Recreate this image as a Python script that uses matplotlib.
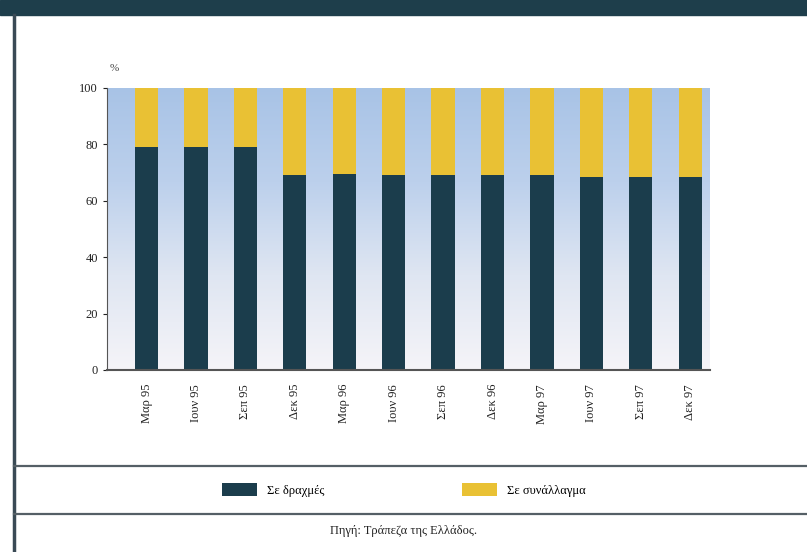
import numpy as np
import matplotlib.pyplot as plt
from matplotlib.colors import LinearSegmentedColormap
from matplotlib.lines import Line2D
from matplotlib.patches import Rectangle

# Quarterly shares (%) of deposits by currency
quarters = ['Μαρ 95', 'Ιουν 95', 'Σεπ 95', 'Δεκ 95', 'Μαρ 96', 'Ιουν 96',
            'Σεπ 96', 'Δεκ 96', 'Μαρ 97', 'Ιουν 97', 'Σεπ 97', 'Δεκ 97']
drachma = [79, 79, 79, 69, 69.5, 69, 69, 69, 69, 68.5, 68.5, 68.5]
foreign = [100 - v for v in drachma]

dark = '#1b3d4c'
gold = '#e9c134'

plt.rcParams['font.family'] = ['Liberation Serif', 'DejaVu Serif']

fig = plt.figure(figsize=(8.07, 5.52), dpi=100)
W, H = 807, 552

# frame: dark header band, left border and the separators of the lower panel
fig.patches.append(Rectangle((0, 1 - 15 / H), 1, 15 / H, transform=fig.transFigure,
                             color='#1e3e4b', zorder=0))
fig.lines.append(Line2D([14 / W, 14 / W], [0, 1 - 15 / H], transform=fig.transFigure,
                        color='#3a4a55', lw=2.5))
for yy in (466, 514):
    fig.lines.append(Line2D([14 / W, 1], [1 - yy / H, 1 - yy / H], transform=fig.transFigure,
                            color='#555f66', lw=1.6))

ax = fig.add_axes([107 / W, 1 - 370 / H, 603 / W, 282 / H])
x = np.arange(len(quarters))

# light blue background fading out towards the axis
cmap = LinearSegmentedColormap.from_list('bg', ['#a8c3e6', '#bcd0ec', '#dfe6f2', '#f5f4f8'])
grad = np.linspace(0, 1, 256).reshape(-1, 1)
ax.imshow(grad, aspect='auto', cmap=cmap, origin='upper',
          extent=(-0.8, 11.4, 0, 100), zorder=0)

ax.bar(x, drachma, width=0.47, color=dark, zorder=2, label='Σε δραχμές')
ax.bar(x, foreign, width=0.47, bottom=drachma, color=gold, zorder=2,
       label='Σε συνάλλαγμα')

ax.set_xlim(-0.8, 11.4)
ax.set_ylim(0, 100)
ax.set_yticks([0, 20, 40, 60, 80, 100])
ax.set_xticks(x)
ax.set_xticklabels(quarters, rotation=90, fontsize=9, color='#222222')
ax.tick_params(axis='y', labelsize=9, colors='#222222', length=3)
ax.tick_params(axis='x', length=0, pad=10)
for s in ('top', 'right'):
    ax.spines[s].set_visible(False)
ax.spines['left'].set_color('#555555')
ax.spines['bottom'].set_color('#555555')
ax.spines['bottom'].set_linewidth(1.5)
ax.text(-0.75, 106, '%', fontsize=8, color='#444444')

fig.legend(loc='center', bbox_to_anchor=(0.5, 1 - 490 / H), ncol=2, frameon=False,
           fontsize=9, handlelength=2.8, handleheight=1.2, columnspacing=11)
fig.text(0.5, 1 - 531 / H, 'Πηγή: Τράπεζα της Ελλάδος.', ha='center', va='center',
         fontsize=9, color='#222222')

fig.savefig('out.png', dpi=100)
